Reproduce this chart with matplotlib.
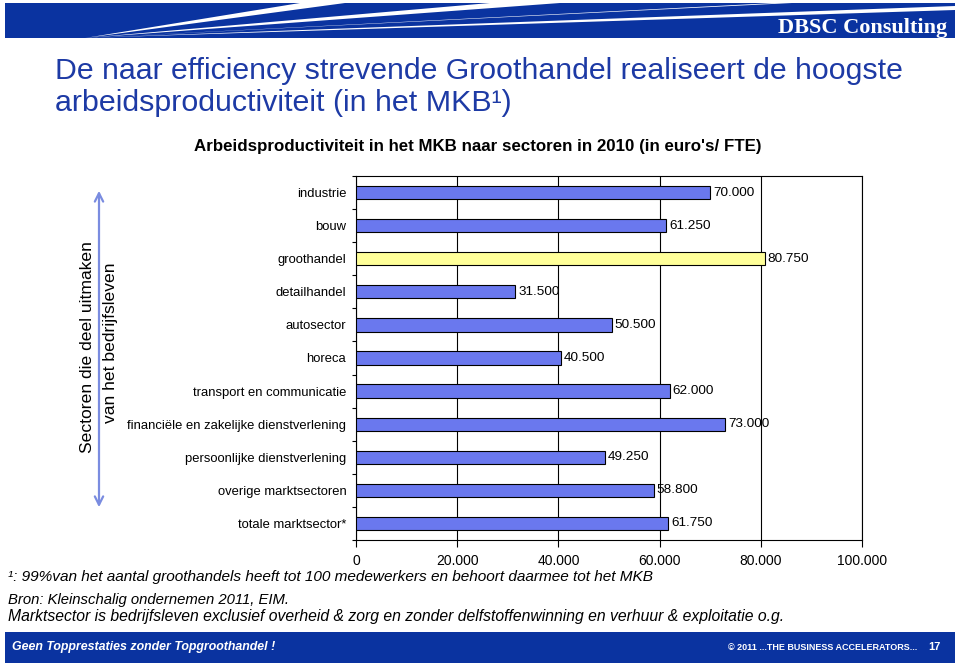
import matplotlib
matplotlib.use("Agg")
import matplotlib.pyplot as plt
from matplotlib.patches import Polygon, Rectangle, FancyArrowPatch
from matplotlib.ticker import FixedLocator, FuncFormatter

categories = ["industrie", "bouw", "groothandel", "detailhandel", "autosector",
              "horeca", "transport en communicatie",
              "financiële en zakelijke dienstverlening",
              "persoonlijke dienstverlening", "overige marktsectoren",
              "totale marktsector*"]
values = [70000, 61250, 80750, 31500, 50500, 40500, 62000, 73000, 49250, 58800, 61750]
value_labels = ["70.000", "61.250", "80.750", "31.500", "50.500", "40.500",
                "62.000", "73.000", "49.250", "58.800", "61.750"]
highlight = "groothandel"
x_ticks = [0, 20000, 40000, 60000, 80000, 100000]

W, H = 960, 664
fig = plt.figure(figsize=(W / 100, H / 100), dpi=100)
fig.patch.set_facecolor("white")

NAVY = "#0a33a0"
TITLE_BLUE = "#1d3aa5"
BAR_BLUE = "#6a78ee"
BAR_YEL = "#ffff99"
SANS = ["Liberation Sans", "DejaVu Sans"]


def fx(x):
    return x / W


def fy(y):
    return 1 - y / H


# header band
fig.patches.append(Rectangle((fx(5), fy(38)), fx(950), 35 / H, transform=fig.transFigure,
                             facecolor=NAVY, edgecolor="none", zorder=0))
rays = [
    [(85, 38), (300, 3), (345, 3)],
    [(85, 38), (490, 3), (560, 3)],
    [(85, 38), (775, 3), (792, 3)],
    [(85, 38), (955, 6), (955, 10)],
]
for r in rays:
    fig.patches.append(Polygon([(fx(a), fy(b)) for a, b in r], closed=True,
                               transform=fig.transFigure, facecolor="white",
                               edgecolor="none", zorder=1))
fig.text(fx(947), fy(33), "DBSC Consulting", color="white", fontsize=16,
         fontweight="bold", family=["Liberation Serif", "DejaVu Serif"],
         ha="right", va="baseline", zorder=2)

# title
t1 = fig.text(fx(55), fy(71), "De naar efficiency strevende Groothandel realiseert de hoogste",
              color=TITLE_BLUE, fontsize=20, family=SANS, ha="left", va="center")
t2 = fig.text(fx(55), fy(103), "arbeidsproductiviteit (in het MKB¹)",
              color=TITLE_BLUE, fontsize=20, family=SANS, ha="left", va="center")
st = fig.text(fx(478), fy(146),
              "Arbeidsproductiviteit in het MKB naar sectoren in 2010 (in euro's/ FTE)",
              color="black", fontsize=10.5, fontweight="bold", family=SANS,
              ha="center", va="center")

# chart
ax = fig.add_axes([fx(356), fy(540), fx(862) - fx(356), (540 - 176) / H])
ypos = list(range(len(categories)))
colors = [BAR_YEL if c == highlight else BAR_BLUE for c in categories]
ax.barh(ypos, values, height=0.4, color=colors, edgecolor="black", linewidth=0.8, zorder=3)
for y, v, lab in zip(ypos, values, value_labels):
    ax.text(v + 600, y, lab, fontsize=9.7, family=SANS, va="center", ha="left", zorder=4)
ax.set_xlim(0, 100000)
ax.set_ylim(len(categories) - 0.5, -0.5)
ax.set_yticks(ypos)
ax.set_yticklabels(categories, fontsize=9.4, family=SANS)
ax.tick_params(axis="y", which="major", length=0, pad=7)
ax.yaxis.set_minor_locator(FixedLocator([i - 0.5 for i in range(len(categories) + 1)]))
ax.tick_params(axis="y", which="minor", length=3, width=0.8, direction="out")
ax.xaxis.set_major_locator(FixedLocator(x_ticks))
ax.xaxis.set_major_formatter(FuncFormatter(lambda v, p: "0" if v == 0 else f"{int(v):,}".replace(",", ".")))
ax.tick_params(axis="x", length=5, width=0.8, direction="out", labelsize=10, pad=5)
for lab in ax.get_xticklabels():
    lab.set_family(SANS)
ax.grid(axis="x", color="black", linewidth=0.8, zorder=1)
for s in ax.spines.values():
    s.set_linewidth(0.8)
    s.set_color("black")

# side arrow and text
fig.patches.append(FancyArrowPatch(
    (fx(99), fy(188)), (fx(99), fy(510)), transform=fig.transFigure,
    arrowstyle="<->,head_length=6,head_width=3", color="#7a8ce0", lw=1.6))
fig.text(fx(88), fy(347), "Sectoren die deel uitmaken", rotation=90, fontsize=12.6,
         family=SANS, ha="center", va="center")
fig.text(fx(110), fy(343), "van het bedrijfsleven", rotation=90, fontsize=12.6,
         family=SANS, ha="center", va="center")

# footnotes
f1 = fig.text(fx(8), fy(577), "¹: 99%van het aantal groothandels heeft tot 100 medewerkers en behoort daarmee tot het MKB",
              fontsize=11, style="italic", family=SANS, ha="left", va="center")
f2 = fig.text(fx(8), fy(600), "Bron: Kleinschalig ondernemen 2011, EIM.",
              fontsize=11, style="italic", family=SANS, ha="left", va="center")
f3 = fig.text(fx(8), fy(617), "Marktsector is bedrijfsleven exclusief overheid & zorg en zonder delfstoffenwinning en verhuur & exploitatie o.g.",
              fontsize=11, style="italic", family=SANS, ha="left", va="center")

# footer band
fig.patches.append(Rectangle((fx(5), fy(663)), fx(950), 31 / H, transform=fig.transFigure,
                             facecolor=NAVY, edgecolor="none", zorder=0))
g1 = fig.text(fx(12), fy(647), "Geen Topprestaties zonder Topgroothandel !", color="white",
              fontsize=10, fontweight="bold", style="italic", family=SANS, ha="left", va="center")
g2 = fig.text(fx(728), fy(647), "© 2011 ...THE BUSINESS ACCELERATORS...", color="white",
              fontsize=7.5, fontweight="bold", family=SANS, ha="left", va="center")
fig.text(fx(941), fy(647), "17", color="white",
         fontsize=8, fontweight="bold", family=SANS, ha="right", va="center")

# fit text widths to the reference layout
fig.canvas.draw()
renderer = fig.canvas.get_renderer()
for t, target in [(t1, 845), (t2, 457), (st, 569), (f1, 646), (f2, 281), (f3, 774),
                  (g1, 266), (g2, 189)]:
    w = t.get_window_extent(renderer).width
    t.set_fontsize(t.get_fontsize() * target / w)

fig.savefig("out.png", dpi=100, facecolor="white")
